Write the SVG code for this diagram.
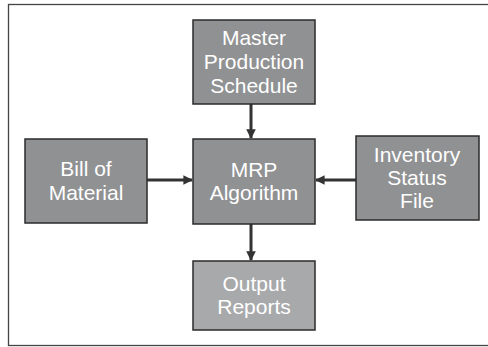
<svg xmlns="http://www.w3.org/2000/svg" width="488" height="347" viewBox="0 0 488 347">
<style>
.box{fill:#909193;stroke:#2b2b2b;stroke-width:1.5}
.light{fill:#a8a9ab}
.t{font-family:"Liberation Sans",Arial,sans-serif;font-size:21px;fill:#ffffff;text-anchor:middle}
.c{stroke:#333333;stroke-width:3;fill:none;marker-end:url(#ah)}
</style>
<defs>
<marker id="ah" viewBox="0 0 10 10" refX="9" refY="5" markerWidth="3.2" markerHeight="3.2" orient="auto" markerUnits="strokeWidth">
<path d="M0,0 L10,5 L0,10 Z" fill="#333333"/>
</marker>
</defs>
<rect x="8.5" y="4.5" width="490" height="341" fill="#ffffff" stroke="#444444" stroke-width="1.3"/>
<g id="connectors">
<line class="c" x1="251" y1="104" x2="251" y2="138"/>
<line class="c" x1="251" y1="224" x2="251" y2="260"/>
<line class="c" x1="147" y1="180" x2="192" y2="180"/>
<line class="c" x1="356" y1="180" x2="316" y2="180"/>
</g>
<g id="master">
<rect class="box" x="193" y="20" width="122" height="84"/>
<text class="t" x="254" y="45">Master</text>
<text class="t" x="254" y="69">Production</text>
<text class="t" x="254" y="93">Schedule</text>
</g>
<g id="mrp">
<rect class="box" x="193" y="139" width="122" height="85"/>
<text class="t" x="254" y="177">MRP</text>
<text class="t" x="254" y="200">Algorithm</text>
</g>
<g id="bom">
<rect class="box" x="25" y="139" width="122" height="84"/>
<text class="t" x="86" y="176">Bill of</text>
<text class="t" x="86" y="200">Material</text>
</g>
<g id="inventory">
<rect class="box" x="356" y="136" width="123" height="84"/>
<text class="t" x="417" y="162">Inventory</text>
<text class="t" x="417" y="185">Status</text>
<text class="t" x="417" y="208">File</text>
</g>
<g id="output">
<rect class="box light" x="193" y="261" width="122" height="69"/>
<text class="t" x="254" y="291">Output</text>
<text class="t" x="254" y="314">Reports</text>
</g>
</svg>
